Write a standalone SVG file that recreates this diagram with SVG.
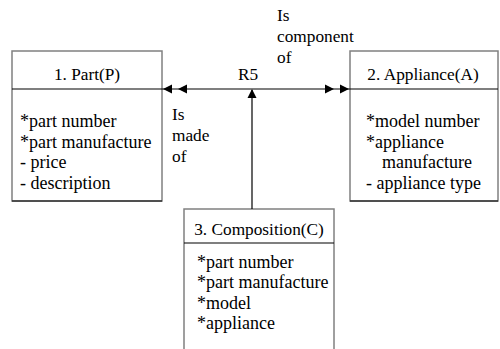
<svg xmlns="http://www.w3.org/2000/svg" width="500" height="349" viewBox="0 0 500 349">
<style>
.box{fill:#fff;stroke:#808080;stroke-width:1.5}
.ln{stroke:#000;stroke-width:1.2;fill:none}
text{font-family:"Liberation Serif","Times New Roman",serif;font-size:18px;fill:#000}
.t{text-anchor:middle;font-size:17.3px}
.l{font-size:17.3px}
</style>
<defs>
<path id="ah" d="M0,0 L-9,-4.5 L-9,4.5 Z" fill="#000"/>
</defs>
<rect width="500" height="349" fill="#fff"/>
<g id="part">
<rect class="box" x="12" y="51" width="150" height="150"/>
<line class="ln" x1="12" y1="201" x2="162" y2="201"/>
<line class="ln" x1="12" y1="89" x2="162" y2="89"/>
<text class="t" x="87" y="80">1. Part(P)</text>
<text x="20" y="127">*part number</text>
<text x="20" y="147.5">*part manufacture</text>
<text x="20" y="168">- price</text>
<text x="20" y="188.5">- description</text>
</g>
<g id="appliance">
<rect class="box" x="350" y="51" width="148" height="150"/>
<line class="ln" x1="350" y1="201" x2="498" y2="201"/>
<line class="ln" x1="350" y1="89" x2="498" y2="89"/>
<text class="t" x="423" y="80">2. Appliance(A)</text>
<text x="366" y="127">*model number</text>
<text x="366" y="147.5">*appliance</text>
<text x="382" y="168">manufacture</text>
<text x="366" y="188.5">- appliance type</text>
</g>
<g id="composition">
<rect class="box" x="184" y="209" width="150" height="150"/>
<line class="ln" x1="184" y1="243" x2="334" y2="243"/>
<text class="t" x="259" y="235">3. Composition(C)</text>
<text x="197" y="267.5">*part number</text>
<text x="197" y="288">*part manufacture</text>
<text x="197" y="308.5">*model</text>
<text x="197" y="329">*appliance</text>
</g>
<g id="connectors">
<line class="ln" x1="162" y1="89" x2="350" y2="89"/>
<line class="ln" x1="252" y1="209" x2="252" y2="90"/>
<use href="#ah" transform="translate(163,89) rotate(180)"/>
<use href="#ah" transform="translate(178,89) rotate(180)"/>
<use href="#ah" transform="translate(334,89)"/>
<use href="#ah" transform="translate(349,89)"/>
<use href="#ah" transform="translate(252,89) rotate(-90)"/>
<text class="t" x="248" y="80">R5</text>
<text class="l" x="277" y="20.5">Is</text>
<text class="l" x="277" y="41.5">component</text>
<text class="l" x="277" y="62.5">of</text>
<text class="l" x="172" y="119.5">Is</text>
<text class="l" x="172" y="140.5">made</text>
<text class="l" x="172" y="161.5">of</text>
</g>
</svg>
